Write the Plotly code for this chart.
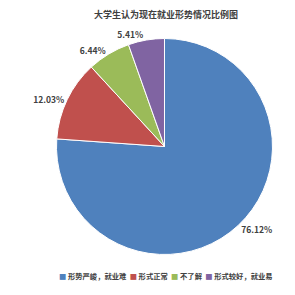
import plotly.graph_objects as go

labels = ["形势严峻，就业难", "形式正常", "不了解", "形式较好，就业易"]
values = [76.12, 12.03, 6.44, 5.41]
colors = ["#4F81BD", "#C0504D", "#9BBB59", "#8064A2"]
title = "大学生认为现在就业形势情况比例图"

FONT = "Noto Sans CJK SC"

fig = go.Figure(go.Pie(
    labels=labels,
    values=values,
    sort=False,
    direction="clockwise",
    rotation=0,
    marker=dict(colors=colors, line=dict(color="white", width=1)),
    texttemplate="%{value:.2f}%",
    textposition="outside",
    textfont=dict(size=8.5, color="#404040", family=FONT, weight="bold"),
    domain=dict(x=[0.1915, 0.9237], y=[0.1373, 0.8695]),
    hoverinfo="label+percent",
    showlegend=False,
))

# legend drawn as a single line of text (compact Excel-style legend)
legend_text = "  ".join(
    f"<span style='color:{c}'>■</span> {l}" for l, c in zip(labels, colors)
)
fig.add_annotation(
    text=legend_text, x=0.563, y=1 - 276 / 295, xref="paper", yref="paper",
    xanchor="center", yanchor="middle", showarrow=False,
    font=dict(size=7.3, color="#404040", family=FONT, weight="bold"),
)

fig.update_layout(
    width=295, height=295,
    margin=dict(l=0, r=0, t=0, b=0),
    paper_bgcolor="white",
    title=dict(text="<b>" + title + "</b>", x=0.563, xanchor="center", y=1 - 15 / 295, yanchor="middle",
               font=dict(size=9, color="#404040", family=FONT)),
)

fig.write_html("out.html")
